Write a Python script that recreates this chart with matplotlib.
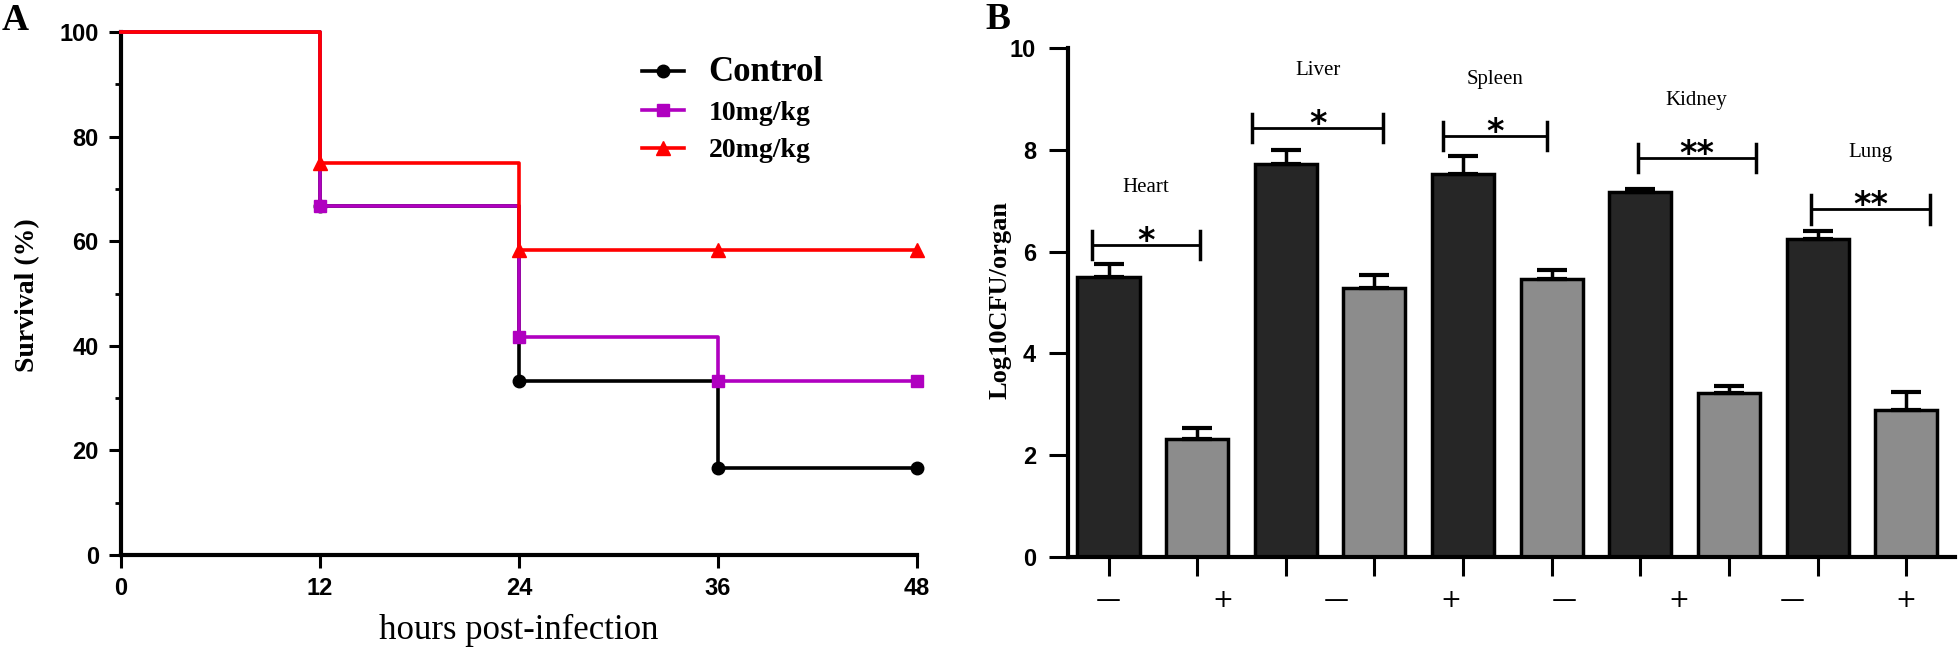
import numpy as np
import matplotlib
matplotlib.use("Agg")
import matplotlib.pyplot as plt
from matplotlib.ticker import MultipleLocator

# Panel A : survie
hours = [0, 12, 24, 36, 48]
surv_control = [100, 66.7, 33.3, 16.7, 16.7]
surv_10 = [100, 66.7, 41.7, 33.3, 33.3]
surv_20 = [100, 75.0, 58.3, 58.3, 58.3]
series_names = ["Control", "10mg/kg", "20mg/kg"]

# Panel B : charge bacterienne
organs = ["Heart", "Liver", "Spleen", "Kidney", "Lung"]
cfu_mean = [5.50, 2.32, 7.72, 5.28, 7.52, 5.46, 7.18, 3.22, 6.25, 2.88]
cfu_err = [0.25, 0.22, 0.28, 0.26, 0.35, 0.18, 0.05, 0.13, 0.15, 0.36]
signs = ["\u2014", "+", "\u2014", "+", "\u2014", "+", "\u2014", "+"]
stars = ["*", "*", "*", "**", "**"]
bracket_left = [-0.19, 1.62, 3.77, 5.97, 7.92]
bracket_right = [1.03, 3.10, 4.95, 7.30, 9.27]
bracket_y = [6.13, 8.43, 8.27, 7.84, 6.83]

SANS = "Liberation Sans"
SERIF = "Liberation Serif"

fig = plt.figure(figsize=(19.6, 6.48), dpi=100)
W, H = 1960, 648

def style_axis(ax):
    for s in ["top", "right"]:
        ax.spines[s].set_visible(False)
    for s in ["left", "bottom"]:
        ax.spines[s].set_linewidth(3)
    for lab in ax.get_xticklabels() + ax.get_yticklabels():
        lab.set_fontfamily(SANS)
        lab.set_fontweight("bold")
        lab.set_fontsize(17)

# ---------------- A ----------------
axA = fig.add_axes([121 / W, 1 - 555 / H, (917 - 121) / W, (555 - 32) / H])
axA.step(hours, surv_control, where="post", color="black", lw=2.6, marker="o",
         ms=9, markevery=[1, 2, 3, 4], clip_on=False, zorder=3, label=series_names[0])
axA.step(hours, surv_10, where="post", color="#b000c0", lw=2.6, marker="s",
         ms=9, markevery=[1, 2, 3, 4], clip_on=False, zorder=4, label=series_names[1])
axA.step(hours, surv_20, where="post", color="#ff0000", lw=2.6, marker="^",
         ms=10, markevery=[1, 2, 3, 4], clip_on=False, zorder=5, label=series_names[2])
axA.set_xlim(0, 48)
axA.set_ylim(0, 100)
axA.set_xticks(hours)
axA.set_yticks(range(0, 101, 20))
axA.yaxis.set_minor_locator(MultipleLocator(10))
axA.tick_params(which="major", length=9, width=2.2, pad=7)
axA.tick_params(which="minor", axis="y", length=4, width=2)
style_axis(axA)
axA.set_xlabel("hours post-infection", fontfamily=SERIF, fontsize=25, labelpad=10)

leg = axA.legend(loc="upper left", bbox_to_anchor=(642 / W, 1 - 56 / H),
                 bbox_transform=fig.transFigure, frameon=False, borderpad=0,
                 borderaxespad=0, handlelength=1.5, handletextpad=0.9,
                 labelspacing=0.42, prop={"family": SERIF, "weight": "bold", "size": 20})
leg.get_texts()[0].set_fontsize(25)

fig.text(28 / W, 1 - 295 / H, "Survival (%)", rotation=90, ha="center", va="center",
         fontfamily=SERIF, fontweight="bold", fontsize=20)
fig.text(2 / W, 1 - 30 / H, "A", ha="left", va="baseline",
         fontfamily=SERIF, fontweight="bold", fontsize=27)

# ---------------- B ----------------
axB = fig.add_axes([1068 / W, 1 - 557 / H, (1955 - 1068) / W, (557 - 48) / H])
x = np.arange(len(cfu_mean))
colors = ["#262626" if i % 2 == 0 else "#8c8c8c" for i in x]
axB.bar(x, cfu_mean, width=0.7, color=colors, edgecolor="black", linewidth=2.5, zorder=2)
axB.errorbar(x, cfu_mean, yerr=[np.zeros(len(x)), cfu_err], fmt="none", ecolor="black",
             elinewidth=2.5, capsize=11, capthick=3, zorder=3)
axB.set_xlim(-0.457, 9.55)
axB.set_ylim(0, 10)
axB.set_yticks(range(0, 11, 2))
axB.xaxis.remove_overlapping_locs = False
axB.set_xticks(x, labels=[""] * len(x))
axB.set_xticks(np.linspace(0, 9, len(signs)), labels=signs, minor=True)
axB.tick_params(axis="x", which="major", length=14, width=2.2)
axB.tick_params(axis="x", which="minor", length=0, pad=22, labelsize=18)
axB.tick_params(axis="y", length=14, width=2.2, pad=9)
style_axis(axB)
for lab in axB.get_xticklabels(minor=True):
    lab.set_fontfamily("DejaVu Sans")
    lab.set_fontweight("normal")
    lab.set_fontsize(18)

for name, st, xl, xr, yb in zip(organs, stars, bracket_left, bracket_right, bracket_y):
    axB.plot([xl, xr], [yb, yb], color="black", lw=2)
    axB.plot([xl, xl], [yb - 0.28, yb + 0.28], color="black", lw=2.5)
    axB.plot([xr, xr], [yb - 0.28, yb + 0.28], color="black", lw=2.5)
    xc = (xl + xr) / 2
    axB.text(xc, yb - 0.12, st, ha="center", va="baseline", fontfamily="DejaVu Sans",
             fontweight="bold", fontsize=24)
    axB.text(xc, yb + 1.12, name, ha="center", va="center", fontfamily=SERIF, fontsize=15)

fig.text(1000 / W, 1 - 300 / H, "Log10CFU/organ", rotation=90, ha="center", va="center",
         fontfamily=SERIF, fontweight="bold", fontsize=19)
fig.text(985 / W, 1 - 29 / H, "B", ha="left", va="baseline",
         fontfamily=SERIF, fontweight="bold", fontsize=27)

fig.savefig("out.png", dpi=100)
